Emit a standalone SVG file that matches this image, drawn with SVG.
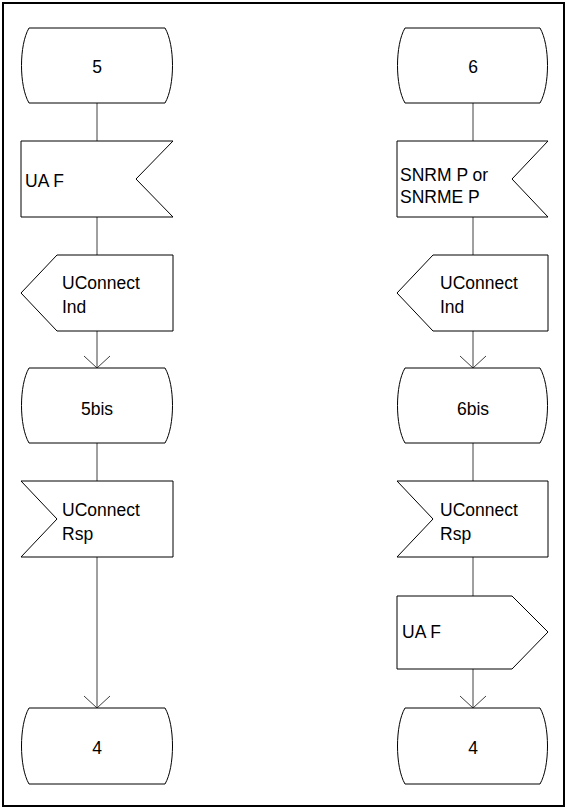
<svg xmlns="http://www.w3.org/2000/svg" width="568" height="809" viewBox="0 0 568 809">
  <style>
    .frame { fill: none; stroke: #000; stroke-width: 2; }
    .shape { fill: #fff; stroke: #000; stroke-width: 1; }
    .conn { fill: none; stroke: #404040; stroke-width: 1; }
    text { font-family: "Liberation Sans", Arial, sans-serif; font-size: 17.5px; fill: #000; }
    .mid { text-anchor: middle; }
  </style>
  <defs>
    <marker id="arrow" markerUnits="userSpaceOnUse" viewBox="-14 -14 16 28" markerWidth="16" markerHeight="28" refX="0" refY="0" orient="auto">
      <path d="M-12,-13 L0,0 L-12,13" fill="none" stroke="#404040" stroke-width="1"/>
    </marker>
  </defs>

  <rect class="frame" x="3" y="3" width="561" height="803"/>

  <!-- connectors -->
  <g id="connectors">
    <line class="conn" x1="97" y1="103" x2="97" y2="141"/>
    <line class="conn" x1="97" y1="217" x2="97" y2="255"/>
    <line class="conn" x1="97" y1="331" x2="97" y2="368" marker-end="url(#arrow)"/>
    <line class="conn" x1="97" y1="443" x2="97" y2="481"/>
    <line class="conn" x1="97" y1="557" x2="97" y2="708" marker-end="url(#arrow)"/>

    <line class="conn" x1="473" y1="103" x2="473" y2="141"/>
    <line class="conn" x1="473" y1="217" x2="473" y2="255"/>
    <line class="conn" x1="473" y1="331" x2="473" y2="368" marker-end="url(#arrow)"/>
    <line class="conn" x1="473" y1="443" x2="473" y2="481"/>
    <line class="conn" x1="473" y1="557" x2="473" y2="596"/>
    <line class="conn" x1="473" y1="669" x2="473" y2="708" marker-end="url(#arrow)"/>
  </g>

  <!-- left column -->
  <g id="state-5">
    <path class="shape" d="M29,28 H165 C175,45 175,86 165,103 H29 C19,86 19,45 29,28 Z"/>
    <text class="mid" x="97" y="73">5</text>
  </g>
  <g id="input-ua-f">
    <path class="shape" d="M21,141 H173 L136,179 L173,217 H21 Z"/>
    <text x="25" y="187">UA F</text>
  </g>
  <g id="output-uconnect-ind-left">
    <path class="shape" d="M57,255 H173 V331 H57 L21,293 Z"/>
    <text x="62" y="289">UConnect</text>
    <text x="62" y="313">Ind</text>
  </g>
  <g id="state-5bis">
    <path class="shape" d="M29,368 H165 C175,385 175,426 165,443 H29 C19,426 19,385 29,368 Z"/>
    <text class="mid" x="97" y="415">5bis</text>
  </g>
  <g id="input-uconnect-rsp-left">
    <path class="shape" d="M21,481 H173 V557 H21 L57,519 Z"/>
    <text x="62" y="516">UConnect</text>
    <text x="62" y="540">Rsp</text>
  </g>
  <g id="state-4-left">
    <path class="shape" d="M29,708 H165 C175,725 175,767 165,784 H29 C19,767 19,725 29,708 Z"/>
    <text class="mid" x="97" y="754">4</text>
  </g>

  <!-- right column -->
  <g id="state-6">
    <path class="shape" d="M405,28 H540 C550,45 550,86 540,103 H405 C395,86 395,45 405,28 Z"/>
    <text class="mid" x="473" y="73">6</text>
  </g>
  <g id="input-snrm">
    <path class="shape" d="M397,141 H548 L512,179 L548,217 H397 Z"/>
    <text x="400" y="181">SNRM P or</text>
    <text x="400" y="203">SNRME P</text>
  </g>
  <g id="output-uconnect-ind-right">
    <path class="shape" d="M433,255 H548 V331 H433 L397,293 Z"/>
    <text x="440" y="289">UConnect</text>
    <text x="440" y="313">Ind</text>
  </g>
  <g id="state-6bis">
    <path class="shape" d="M405,368 H540 C550,385 550,426 540,443 H405 C395,426 395,385 405,368 Z"/>
    <text class="mid" x="473" y="415">6bis</text>
  </g>
  <g id="input-uconnect-rsp-right">
    <path class="shape" d="M397,481 H548 V557 H397 L433,519 Z"/>
    <text x="440" y="516">UConnect</text>
    <text x="440" y="540">Rsp</text>
  </g>
  <g id="output-ua-f">
    <path class="shape" d="M397,596 H512 L548,632 L512,669 H397 Z"/>
    <text x="402" y="638">UA F</text>
  </g>
  <g id="state-4-right">
    <path class="shape" d="M405,708 H540 C550,725 550,767 540,784 H405 C395,767 395,725 405,708 Z"/>
    <text class="mid" x="473" y="754">4</text>
  </g>
</svg>
